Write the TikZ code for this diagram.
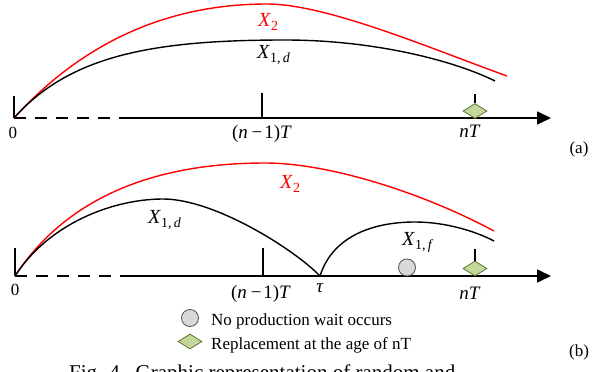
\documentclass[tikz,border=0pt]{standalone}
\usepackage{fontspec}
\setmainfont{Liberation Serif}
\usetikzlibrary{arrows.meta,shapes.geometric}
\definecolor{dgreen}{HTML}{C4D79B}
\definecolor{dgreenline}{HTML}{5E7530}
\definecolor{cgray}{HTML}{D9D9D9}
\definecolor{cgrayline}{HTML}{505050}
\newcommand\mysub[1]{\raisebox{-4.5pt}{\fontsize{14}{14}\selectfont #1}}
\tikzset{
  axisline/.style={line width=1.7pt},
  axisdash/.style={line width=1.7pt, dash pattern=on 12pt off 9pt},
  curveblack/.style={line width=1.4pt, black},
  curvered/.style={line width=1.4pt, red},
  tickline/.style={line width=1.4pt},
  lab/.style={inner sep=0pt, anchor=base, font=\fontsize{19}{19}\selectfont},
  xlab/.style={inner sep=0pt, anchor=base west, font=\fontsize{20}{20}\selectfont},
  legtext/.style={inner sep=0pt, anchor=base west, font=\fontsize{17}{17}\selectfont},
  replacemark/.style={diamond, draw=dgreenline, fill=dgreen, line width=0.8pt,
      minimum width=24pt, minimum height=15pt, inner sep=0pt},
  waitmark/.style={circle, draw=cgrayline, fill=cgray, line width=0.8pt,
      minimum size=17pt, inner sep=0pt},
  tip/.style={-{Triangle[length=14pt,width=13pt]}}
}
\begin{document}
\begin{tikzpicture}[x=1pt,y=-1pt]
\useasboundingbox (0,0) rectangle (592,372);

% ---------------- panel (a) ----------------
\coordinate (a0) at (14,118);
\coordinate (adash) at (124,118);
\coordinate (aend) at (551,118);
\coordinate (a0top) at (14,96);
\coordinate (an1) at (262,118);
\coordinate (an1top) at (262,93);
\coordinate (antop) at (475,94);
\coordinate (aredtop) at (267,4);
\coordinate (aredend) at (507,76);
\coordinate (ablktop) at (285,40);
\coordinate (ablkend) at (495,81);

\draw[axisdash] (a0) -- (adash);
\draw[axisline,tip] (adash) -- (aend);
\draw[tickline] (a0) -- (a0top);
\draw[tickline] (an1) -- (an1top);
\node[replacemark] (adia) at (475,111) {};
\draw[tickline] (adia.north) -- (antop);

\draw[curvered] (a0) .. controls (83,42) and (168,4) .. (aredtop)
                     .. controls (327,4) and (432,49) .. (aredend);
\draw[curveblack] (a0) .. controls (70,55) and (154,40) .. (ablktop)
                       .. controls (375,40) and (455,61) .. (ablkend);

\node[lab, font=\fontsize{17}{17}\selectfont] (a0lab) at (13,138) {0};
\node[lab] (an1lab) at (262,138) {(\textit{n}\hspace{0.2em}−\hspace{0.1em}1)\textit{T}};
\node[lab] (anlab) at (470,137) {\textit{nT}};
\node[lab, font=\fontsize{17}{17}\selectfont] (alab) at (579,153) {(a)};
\node[xlab, text=red] (ax2) at (258,26) {\textit{X}\mysub{2}};
\node[xlab] (ax1d) at (257,58) {\textit{X}\mysub{1,\,\textit{d}}};

% ---------------- panel (b) ----------------
\coordinate (b0) at (15,276);
\coordinate (bdash) at (126,276);
\coordinate (bend) at (551,276);
\coordinate (b0top) at (15,248);
\coordinate (bn1) at (263,276);
\coordinate (bn1top) at (263,248);
\coordinate (btau) at (320,276);
\coordinate (bntop) at (475,249);
\coordinate (bredtop) at (265,163);
\coordinate (bredend) at (494,231);
\coordinate (bdtop) at (163,199);
\coordinate (bftop) at (415,222);
\coordinate (bfend) at (494,241);

\draw[axisdash] (b0) -- (bdash);
\draw[axisline,tip] (bdash) -- (bend);
\draw[tickline] (b0) -- (b0top);
\draw[tickline] (bn1) -- (bn1top);
\node[replacemark] (bdia) at (475,268.5) {};
\draw[tickline] (bdia.north) -- (bntop);
\node[waitmark] (bcirc) at (407,267.5) {};

\draw[curvered] (b0) .. controls (65,200) and (150,163) .. (bredtop)
                     .. controls (330,163) and (424,193.4) .. (bredend);
\draw[curveblack] (b0) .. controls (50,222) and (115,199) .. (bdtop)
                       .. controls (215,199) and (295,250) .. (btau);
\draw[curveblack] (btau) .. controls (332,238) and (370,222) .. (bftop)
                         .. controls (445,222) and (475,231) .. (bfend);

\node[lab, font=\fontsize{17}{17}\selectfont] (b0lab) at (15,295) {0};
\node[lab] (bn1lab) at (261,298) {(\textit{n}\hspace{0.2em}−\hspace{0.1em}1)\textit{T}};
\node[lab] (btaulab) at (320,292) {\textit{τ}};
\node[lab] (bnlab) at (470,299) {\textit{nT}};
\node[lab, font=\fontsize{17}{17}\selectfont] (blab) at (579,356) {(b)};
\node[xlab, text=red] (bx2) at (280,188) {\textit{X}\mysub{2}};
\node[xlab] (bx1d) at (148,223) {\textit{X}\mysub{1,\,\textit{d}}};
\node[xlab] (bx1f) at (402,245) {\textit{X}\mysub{1,\,\textit{f}}};

% ---------------- legend ----------------
\node[waitmark] (lcirc) at (190,318) {};
\node[legtext] (ltext1) at (211,325) {No production wait occurs};
\node[replacemark] (ldia) at (190,341.5) {};
\node[legtext] (ltext2) at (211,349) {Replacement at the age of nT};

% ---------------- caption (cut off by the frame, as in the reference) ----------------
\begin{scope}
\clip (0,0) rectangle (592,372);
\node[inner sep=0pt, anchor=base west, font=\fontsize{21}{21}\selectfont] (cap) at (69,379) {Fig. 4.\ \ Graphic representation of random and};
\end{scope}
\end{tikzpicture}
\end{document}
